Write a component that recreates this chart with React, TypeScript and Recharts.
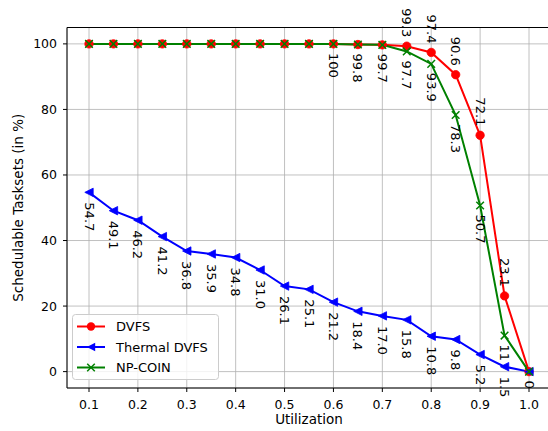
import React from 'react';
import { LineChart, Line, XAxis, YAxis, CartesianGrid, ReferenceLine, LabelList, Legend } from 'recharts';

const utilization = [0.1, 0.15, 0.2, 0.25, 0.3, 0.35, 0.4, 0.45, 0.5, 0.55, 0.6, 0.65, 0.7, 0.75, 0.8, 0.85, 0.9, 0.95, 1.0];
const dvfs = [100, 100, 100, 100, 100, 100, 100, 100, 100, 100, 100, 99.8, 99.7, 99.3, 97.4, 90.6, 72.1, 23.1, 0];
const thermalDvfs = [54.7, 49.1, 46.2, 41.2, 36.8, 35.9, 34.8, 31.0, 26.1, 25.1, 21.2, 18.4, 17.0, 15.8, 10.8, 9.8, 5.2, 1.5, 0];
const npCoin = [100, 100, 100, 100, 100, 100, 100, 100, 100, 100, 100, 99.8, 99.7, 97.7, 93.9, 78.3, 50.7, 11, 0];

const dvfsLabels = [null, null, null, null, null, null, null, null, null, null, null, null, null, '99.3', '97.4', '90.6', '72.1', '23.1', null];
const thermalLabels = ['54.7', '49.1', '46.2', '41.2', '36.8', '35.9', '34.8', '31.0', '26.1', '25.1', '21.2', '18.4', '17.0', '15.8', '10.8', '9.8', '5.2', '1.5', null];
const npCoinLabels = [null, null, null, null, null, null, null, null, null, null, '100', '99.8', '99.7', '97.7', '93.9', '78.3', '50.7', '11', '0'];

const xTicks = [0.1, 0.2, 0.3, 0.4, 0.5, 0.6, 0.7, 0.8, 0.9, 1.0];
const yTicks = [0, 20, 40, 60, 80, 100];

const seriesNames = ['DVFS', 'Thermal DVFS', 'NP-COIN'];

const data = utilization.map((u, i) => ({
  u,
  dvfs: dvfs[i],
  thermal: thermalDvfs[i],
  np: npCoin[i],
  dvfsLabel: dvfsLabels[i],
  thermalLabel: thermalLabels[i],
  npLabel: npCoinLabels[i],
}));

const FONT = '"DejaVu Sans", sans-serif';
const RED = '#ff0000';
const BLUE = '#0000ff';
const GREEN = '#008000';

const circleDot = (props: any) => {
  const { cx, cy, index } = props;
  if (cx == null || cy == null) return null;
  return <circle key={`c-${index}`} cx={cx} cy={cy} r={4.2} fill={RED} stroke={RED} strokeWidth={0.8} />;
};

const triDot = (props: any) => {
  const { cx, cy, index } = props;
  if (cx == null || cy == null) return null;
  const s = 4.2;
  return (
    <polygon
      key={`t-${index}`}
      points={`${cx - s},${cy} ${cx + s},${cy - s} ${cx + s},${cy + s}`}
      fill={BLUE}
      stroke={BLUE}
      strokeWidth={0.8}
    />
  );
};

const xDot = (props: any) => {
  const { cx, cy, index } = props;
  if (cx == null || cy == null) return null;
  const s = 3.8;
  return (
    <g key={`x-${index}`}>
      <line x1={cx - s} y1={cy - s} x2={cx + s} y2={cy + s} stroke={GREEN} strokeWidth={1.5} />
      <line x1={cx - s} y1={cy + s} x2={cx + s} y2={cy - s} stroke={GREEN} strokeWidth={1.5} />
    </g>
  );
};

const makeLabel = (above: boolean, gap: number) => (props: any) => {
  const { x, y, value, index } = props;
  if (value == null || value === '' || x == null || y == null) return null;
  const ty = above ? y - gap : y + gap;
  return (
    <text
      key={`l-${index}`}
      x={x}
      y={ty}
      transform={`rotate(90, ${x}, ${ty})`}
      textAnchor={above ? 'end' : 'start'}
      dominantBaseline="central"
      fontFamily={FONT}
      fontSize={13}
      fill="#000"
    >
      {value}
    </text>
  );
};

const renderLegend = () => {
  const rows = [
    { name: seriesNames[0], kind: 'circle', color: RED },
    { name: seriesNames[1], kind: 'tri', color: BLUE },
    { name: seriesNames[2], kind: 'x', color: GREEN },
  ];
  return (
    <svg width={148} height={67} style={{ display: 'block' }}>
      <rect x={0.5} y={0.5} width={146} height={65} rx={3} ry={3} fill="#ffffff" fillOpacity={0.8} stroke="#cccccc" strokeWidth={1} />
      {rows.map((r, i) => {
        const y = 12.5 + i * 20.5;
        const cx = 19;
        return (
          <g key={r.name}>
            <line x1={5} y1={y} x2={33} y2={y} stroke={r.color} strokeWidth={2} />
            {r.kind === 'circle' && <circle cx={cx} cy={y} r={4.2} fill={r.color} />}
            {r.kind === 'tri' && (
              <polygon points={`${cx - 4.2},${y} ${cx + 4.2},${y - 4.2} ${cx + 4.2},${y + 4.2}`} fill={r.color} />
            )}
            {r.kind === 'x' && (
              <g>
                <line x1={cx - 3.8} y1={y - 3.8} x2={cx + 3.8} y2={y + 3.8} stroke={r.color} strokeWidth={1.5} />
                <line x1={cx - 3.8} y1={y + 3.8} x2={cx + 3.8} y2={y - 3.8} stroke={r.color} strokeWidth={1.5} />
              </g>
            )}
            <text x={44} y={y} dominantBaseline="central" fontFamily={FONT} fontSize={13} fill="#000">
              {r.name}
            </text>
          </g>
        );
      })}
    </svg>
  );
};

const yLabel = (props: any) => {
  const vb = props.viewBox || {};
  const x = 18;
  const y = (vb.y ?? 27.5) + (vb.height ?? 360.5) / 2;
  return (
    <text x={x} y={y} transform={`rotate(-90, ${x}, ${y})`} textAnchor="middle" dominantBaseline="central" fontFamily={FONT} fontSize={13.5} fill="#000">
      Schedulable Tasksets (in %)
    </text>
  );
};

const xLabel = (props: any) => {
  const vb = props.viewBox || {};
  const x = (vb.x ?? 67) + (vb.width ?? 484) / 2;
  const y = (vb.y ?? 388) + 36;
  return (
    <text x={x} y={y} textAnchor="middle" fontFamily={FONT} fontSize={13.5} fill="#000">
      Utilization
    </text>
  );
};

export default function App() {
  return (
    <div style={{ position: 'absolute', left: 0, top: 0, width: 548, height: 431, overflow: 'hidden', background: '#fff' }}>
      <LineChart width={560} height={431} data={data} margin={{ top: 27.5, right: 9, bottom: 0, left: 0 }}>
        <CartesianGrid stroke="#b0b0b0" strokeWidth={0.8} />
        <XAxis
          dataKey="u"
          type="number"
          domain={[0.055, 1.045]}
          ticks={xTicks}
          tickFormatter={(v: number) => v.toFixed(1)}
          height={43}
          tickSize={4}
          tickMargin={8}
          stroke="#000"
          tickLine={{ stroke: '#000' }}
          axisLine={{ stroke: '#000', strokeWidth: 1 }}
          tick={{ fill: '#000', fontFamily: FONT, fontSize: 12.5 }}
          allowDataOverflow
          label={xLabel}
        />
        <YAxis
          type="number"
          domain={[-5, 105]}
          ticks={yTicks}
          width={67}
          tickSize={4}
          tickMargin={6}
          stroke="#000"
          tickLine={{ stroke: '#000' }}
          axisLine={{ stroke: '#000', strokeWidth: 1 }}
          tick={{ fill: '#000', fontFamily: FONT, fontSize: 12.5 }}
          allowDataOverflow
          label={yLabel}
        />
        <ReferenceLine y={105} stroke="#000" strokeWidth={1} />
        <Legend
          layout="horizontal"
          verticalAlign="middle"
          align="center"
          content={renderLegend}
          wrapperStyle={{ position: 'absolute', left: 72, top: 314, width: 148, height: 67 }}
        />
        <Line
          dataKey="dvfs"
          name={seriesNames[0]}
          stroke={RED}
          strokeWidth={2}
          dot={circleDot}
          activeDot={false}
          isAnimationActive={false}
        >
          <LabelList dataKey="dvfsLabel" content={makeLabel(true, 9)} />
        </Line>
        <Line
          dataKey="thermal"
          name={seriesNames[1]}
          stroke={BLUE}
          strokeWidth={2}
          dot={triDot}
          activeDot={false}
          isAnimationActive={false}
        >
          <LabelList dataKey="thermalLabel" content={makeLabel(false, 10)} />
        </Line>
        <Line
          dataKey="np"
          name={seriesNames[2]}
          stroke={GREEN}
          strokeWidth={2}
          dot={xDot}
          activeDot={false}
          isAnimationActive={false}
        >
          <LabelList dataKey="npLabel" content={makeLabel(false, 9)} />
        </Line>
      </LineChart>
    </div>
  );
}
